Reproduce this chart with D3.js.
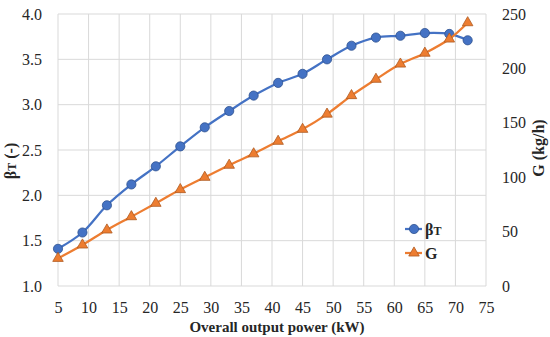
<!DOCTYPE html>
<html>
<head>
<meta charset="utf-8">
<script src="https://cdn.jsdelivr.net/npm/d3@7"></script>
<style>
  body { margin: 0; background: #fff; }
  svg text { font-family: 'Liberation Serif', 'Times New Roman', 'DejaVu Serif', serif !important; fill: #262626; }
</style>
</head>
<body>
<div class="main"></div>
<script>
// data
const power = [5, 9, 13, 17, 21, 25, 29, 33, 37, 41, 45, 49, 53, 57, 61, 65, 69, 72];
const beta = [1.41, 1.59, 1.89, 2.12, 2.32, 2.54, 2.75, 2.93, 3.10, 3.24, 3.34, 3.50, 3.65, 3.74, 3.76, 3.79, 3.78, 3.71];
const flow = [25.4, 37.7, 51.5, 63.7, 76, 88.6, 99.9, 111, 121.5, 133, 144, 158, 175, 190, 204, 214, 227, 242];

const xTicks = [5, 10, 15, 20, 25, 30, 35, 40, 45, 50, 55, 60, 65, 70, 75];
const yLeftTicks = [1.0, 1.5, 2.0, 2.5, 3.0, 3.5, 4.0];
const yRightTicks = [0, 50, 100, 150, 200, 250];

const blue = "#4472C4", blueDark = "#2F528F";
const orange = "#ED7D31", orangeDark = "#AE5A21";

width = 550;
height = 337;
margin = { top: 14, right: 64, bottom: 51, left: 58 };

svg = d3.select('.main').append('svg')
    .attr("width", width)
    .attr("height", height)
    .style("font-family", "'Liberation Serif', 'Times New Roman', serif");

let x = d3.scaleLinear().domain([5, 75]).range([margin.left, width - margin.right]);
let yL = d3.scaleLinear().domain([1, 4]).range([height - margin.bottom, margin.top]);
let yR = d3.scaleLinear().domain([0, 250]).range([height - margin.bottom, margin.top]);

// gridlines
svg.append("g").selectAll("line.v").data(xTicks).enter().append("line")
    .attr("x1", d => x(d)).attr("x2", d => x(d))
    .attr("y1", yL(1)).attr("y2", yL(4))
    .attr("stroke", "#d9d9d9").attr("stroke-width", 1);
svg.append("g").selectAll("line.h").data(yLeftTicks).enter().append("line")
    .attr("x1", x(5)).attr("x2", x(75))
    .attr("y1", d => yL(d)).attr("y2", d => yL(d))
    .attr("stroke", "#d9d9d9").attr("stroke-width", 1);

// axes
let xAxis = svg.append("g")
    .attr("transform", "translate(0," + yL(1) + ")")
    .call(d3.axisBottom(x).tickValues(xTicks).tickSize(0).tickPadding(16).tickFormat(d3.format("d")));
let leftAxis = svg.append("g")
    .attr("transform", "translate(" + x(5) + ",0)")
    .call(d3.axisLeft(yL).tickValues(yLeftTicks).tickSize(0).tickPadding(16).tickFormat(d3.format(".1f")));
let rightAxis = svg.append("g")
    .attr("transform", "translate(" + x(75) + ",0)")
    .call(d3.axisRight(yR).tickValues(yRightTicks).tickSize(0).tickPadding(16).tickFormat(d3.format("d")));

[xAxis, leftAxis, rightAxis].forEach(a => {
    a.attr("font-family", null).attr("font-size", null);
    a.select(".domain").remove();
    a.selectAll("text").attr("font-size", 16).attr("fill", "#262626");
});

// axis titles
svg.append("text")
    .attr("x", 277).attr("y", 331.5)
    .attr("text-anchor", "middle")
    .attr("font-size", 15).attr("font-weight", "bold")
    .text("Overall output power (kW)");

let lt = svg.append("text")
    .attr("transform", "translate(16,161) rotate(-90)")
    .attr("text-anchor", "middle")
    .attr("font-size", 16).attr("font-weight", "bold");
lt.append("tspan").text("β");
lt.append("tspan").attr("font-size", 12).text("T");
lt.append("tspan").text(" (-)");

svg.append("text")
    .attr("transform", "translate(544,148) rotate(-90)")
    .attr("text-anchor", "middle")
    .attr("font-size", 16).attr("font-weight", "bold")
    .text("G (kg/h)");

// lines
let betaLine = d3.line().x((d, i) => x(power[i])).y(d => yL(d)).curve(d3.curveCatmullRom.alpha(0.5));
let flowLine = d3.line().x((d, i) => x(power[i])).y(d => yR(d)).curve(d3.curveCatmullRom.alpha(0.5));

svg.append("path").datum(beta)
    .attr("d", betaLine)
    .attr("fill", "none").attr("stroke", blue).attr("stroke-width", 2.25);
svg.append("g").selectAll("circle").data(beta).enter().append("circle")
    .attr("cx", (d, i) => x(power[i]))
    .attr("cy", d => yL(d))
    .attr("r", 4.6)
    .attr("fill", blue).attr("stroke", blueDark).attr("stroke-width", 0.8);

let tri = d3.symbol().type(d3.symbolTriangle).size(48);

svg.append("path").datum(flow)
    .attr("d", flowLine)
    .attr("fill", "none").attr("stroke", orange).attr("stroke-width", 2.25);
svg.append("g").selectAll("path").data(flow).enter().append("path")
    .attr("d", tri)
    .attr("transform", (d, i) => "translate(" + x(power[i]) + "," + yR(d) + ")")
    .attr("fill", orange).attr("stroke", orangeDark).attr("stroke-width", 0.8);

// legend
const legendItems = [
    { name: "β", sub: "T", color: blue, dark: blueDark, shape: "circle" },
    { name: "G", sub: "", color: orange, dark: orangeDark, shape: "triangle" }
];
let legend = svg.append("g").selectAll("g").data(legendItems).enter().append("g")
    .attr("transform", (d, i) => "translate(405," + (229 + i * 24) + ")");
legend.append("line")
    .attr("x1", 0).attr("x2", 17).attr("y1", 0).attr("y2", 0)
    .attr("stroke", d => d.color).attr("stroke-width", 2.25);
legend.each(function(d) {
    let g = d3.select(this);
    if (d.shape === "circle") {
        g.append("circle").attr("cx", 9).attr("cy", 0).attr("r", 4.6)
            .attr("fill", d.color).attr("stroke", d.dark).attr("stroke-width", 0.8);
    } else {
        g.append("path").attr("d", tri).attr("transform", "translate(9,0)")
            .attr("fill", d.color).attr("stroke", d.dark).attr("stroke-width", 0.8);
    }
    let t = g.append("text").attr("x", 20).attr("y", 5.5)
        .attr("font-size", 16).attr("font-weight", "bold");
    t.append("tspan").text(d.name);
    if (d.sub) t.append("tspan").attr("font-size", 12).text(d.sub);
});
</script>
</body>
</html>
